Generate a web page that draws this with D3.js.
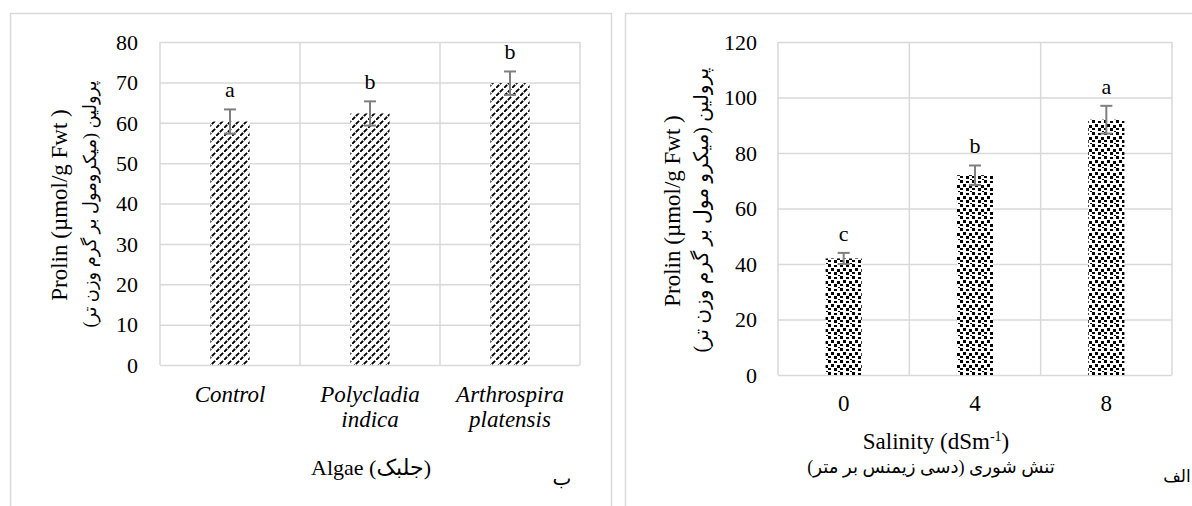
<!DOCTYPE html>
<html>
<head>
<meta charset="utf-8">
<script src="https://cdn.jsdelivr.net/npm/d3@7"></script>
<style>
  body { margin: 0; background: #fff; }
</style>
</head>
<body>
<div id="chart"></div>
<script>
// algae panel (ب)
const algaeCats = ["Control", "Polycladia indica", "Arthrospira platensis"];
const algaeMeans = [60.3, 62.3, 69.8];
const algaeErr = [3.0, 3.0, 2.9];
const algaeLetters = ["a", "b", "b"];
const algaeTicks = [0, 10, 20, 30, 40, 50, 60, 70, 80];

// salinity panel (الف)
const salinityCats = ["0", "4", "8"];
const salinityMeans = [42, 72, 92];
const salinityErr = [2, 3.5, 5];
const salinityLetters = ["c", "b", "a"];
const salinityTicks = [0, 20, 40, 60, 80, 100, 120];

const width = 1192, height = 506;
const grid = "#d9d9d9";
const serif = "'Liberation Serif', 'Times New Roman', serif";
const farsi = "'Liberation Serif', 'DejaVu Sans', serif";

const svg = d3.select("#chart").append("svg")
    .attr("width", width)
    .attr("height", height);

const defs = svg.append("defs");

// dashed upward diagonal fill
const diag = defs.append("pattern")
    .attr("id", "dashDiag")
    .attr("patternUnits", "userSpaceOnUse")
    .attr("width", 8).attr("height", 8);
diag.append("rect").attr("width", 8).attr("height", 8).attr("fill", "#fff");
diag.append("path")
    .attr("d", "M0.5,7.5L2.5,5.5M4.5,3.5L6.5,1.5")
    .attr("stroke", "#000").attr("stroke-width", 1.8).attr("stroke-linecap", "square");

// confetti fill
const conf = defs.append("pattern")
    .attr("id", "confetti")
    .attr("patternUnits", "userSpaceOnUse")
    .attr("width", 12).attr("height", 12);
conf.append("rect").attr("width", 12).attr("height", 12).attr("fill", "#fff");
[[0, 0, 3, 3], [6, 1, 3, 2], [3, 4, 3, 3], [9, 5, 3, 3], [0, 8, 3, 2], [6, 8, 3, 3], [10, 11, 2, 1]]
  .forEach(r => conf.append("rect")
    .attr("x", r[0]).attr("y", r[1]).attr("width", r[2]).attr("height", r[3])
    .attr("fill", "#000"));

// panel frames
svg.append("path")
    .attr("d", `M10.5,${height}V13.5H611.5V${height}`)
    .attr("fill", "none").attr("stroke", grid).attr("stroke-width", 1.5);
svg.append("path")
    .attr("d", `M625.5,${height}V13.5H${width}`)
    .attr("fill", "none").attr("stroke", grid).attr("stroke-width", 1.5);

function fitText(sel, target) {
  const w = sel.node().getComputedTextLength();
  const fs = parseFloat(sel.style("font-size"));
  sel.style("font-size", (fs * target / w) + "px");
}

function label(parent, txt, size, fam) {
  return parent.append("text")
      .style("font-family", fam || serif)
      .style("font-size", size + "px")
      .attr("fill", "#000")
      .text(txt);
}

function drawChart(o) {
  const g = svg.append("g");
  const x = d3.scaleBand().domain(o.cats).range([o.left, o.right]).paddingInner(0).paddingOuter(0);
  const y = d3.scaleLinear().domain([0, d3.max(o.ticks)]).range([o.bottom, o.top]);

  // horizontal grid + tick labels
  const yAxis = d3.axisLeft(y).tickValues(o.ticks).tickSize(-(o.right - o.left)).tickPadding(o.left - o.tickRight);
  const ya = g.append("g").attr("transform", `translate(${o.left},0)`).call(yAxis);
  ya.select(".domain").remove();
  ya.selectAll("line").attr("stroke", grid).attr("stroke-width", 1.5);
  ya.selectAll("text")
      .style("font-family", serif).style("font-size", "22px")
      .attr("fill", "#000").attr("dy", "0.33em");

  // vertical separators between categories
  const seps = [o.left].concat(o.cats.map(c => x(c) + x.bandwidth()));
  g.selectAll("line.sep").data(seps).join("line")
      .attr("class", "sep")
      .attr("x1", d => d).attr("x2", d => d)
      .attr("y1", o.top).attr("y2", o.bottom)
      .attr("stroke", grid).attr("stroke-width", 1.5);

  const bw = x.bandwidth() * o.barFrac;
  const cx = c => x(c) + x.bandwidth() / 2;

  g.selectAll("rect.bar").data(o.means).join("rect")
      .attr("class", "bar")
      .attr("x", (d, i) => cx(o.cats[i]) - bw / 2)
      .attr("width", bw)
      .attr("y", d => y(d))
      .attr("height", d => o.bottom - y(d))
      .attr("fill", `url(#${o.pattern})`);

  // error bars (gray)
  const eb = g.selectAll("g.err").data(o.means).join("g").attr("class", "err")
      .attr("stroke", "#7f7f7f").attr("stroke-width", 2);
  eb.append("line")
      .attr("x1", (d, i) => cx(o.cats[i])).attr("x2", (d, i) => cx(o.cats[i]))
      .attr("y1", (d, i) => y(d - o.err[i])).attr("y2", (d, i) => y(d + o.err[i]));
  eb.append("line")
      .attr("x1", (d, i) => cx(o.cats[i]) - 6).attr("x2", (d, i) => cx(o.cats[i]) + 6)
      .attr("y1", (d, i) => y(d + o.err[i])).attr("y2", (d, i) => y(d + o.err[i]));
  eb.append("line")
      .attr("x1", (d, i) => cx(o.cats[i]) - 6).attr("x2", (d, i) => cx(o.cats[i]) + 6)
      .attr("y1", (d, i) => y(d - o.err[i])).attr("y2", (d, i) => y(d - o.err[i]));

  // significance letters
  o.letters.forEach((t, i) => {
    label(g, t, 22)
        .attr("x", cx(o.cats[i]))
        .attr("y", y(o.means[i] + o.err[i]) - 12)
        .attr("text-anchor", "middle");
  });

  // category labels
  o.cats.forEach(c => {
    c.split(" ").forEach((t, k) => {
      label(g, t, 23)
          .attr("x", cx(c))
          .attr("y", o.catY + k * 25)
          .attr("text-anchor", "middle")
          .style("font-style", o.italic ? "italic" : "normal");
    });
  });

  // y titles
  label(g, "Prolin (µmol/g Fwt )", 23)
      .attr("transform", `translate(${o.titleX},${o.titleMid}) rotate(-90)`)
      .attr("text-anchor", "middle");
  const fa = label(g, o.faTitle, 18, farsi)
      .attr("transform", `translate(${o.faX},${o.faMid}) rotate(-90)`)
      .attr("text-anchor", "middle")
      .attr("direction", "rtl");
  fitText(fa, o.faLen);
}

drawChart({
  cats: algaeCats, means: algaeMeans, err: algaeErr, letters: algaeLetters, ticks: algaeTicks,
  left: 160, right: 580, top: 42, bottom: 365, tickRight: 138, barFrac: 0.28,
  pattern: "dashDiag", italic: true, catY: 402,
  titleX: 67, titleMid: 205, faX: 96, faMid: 204, faLen: 247,
  faTitle: "پرولین (میکرومول بر گرم وزن تر)"
});

drawChart({
  cats: salinityCats, means: salinityMeans, err: salinityErr, letters: salinityLetters, ticks: salinityTicks,
  left: 778, right: 1172, top: 42, bottom: 375, tickRight: 757, barFrac: 0.275,
  pattern: "confetti", italic: false, catY: 411,
  titleX: 680, titleMid: 211, faX: 708, faMid: 210, faLen: 285,
  faTitle: "پرولین (میکرو مول بر گرم وزن تر)"
});

// x titles and panel marks
label(svg, "Algae (جلبک)", 22, farsi)
    .attr("x", 371).attr("y", 475)
    .attr("text-anchor", "middle");
label(svg, "ب", 20, farsi)
    .attr("x", 562).attr("y", 485)
    .attr("text-anchor", "middle");

const sal = label(svg, null, 23)
    .attr("x", 936).attr("y", 449)
    .attr("text-anchor", "middle");
sal.append("tspan").text("Salinity (dSm");
sal.append("tspan").style("font-size", "14px").attr("dy", -8).text("-1");
sal.append("tspan").attr("dy", 8).text(")");

const salFa = label(svg, "تنش شوری (دسی زیمنس بر متر)", 18, farsi)
    .attr("x", 931).attr("y", 473)
    .attr("text-anchor", "middle")
    .attr("direction", "rtl");
fitText(salFa, 248);

label(svg, "الف", 17, farsi)
    .attr("x", 1177).attr("y", 482)
    .attr("text-anchor", "middle");
</script>
</body>
</html>
